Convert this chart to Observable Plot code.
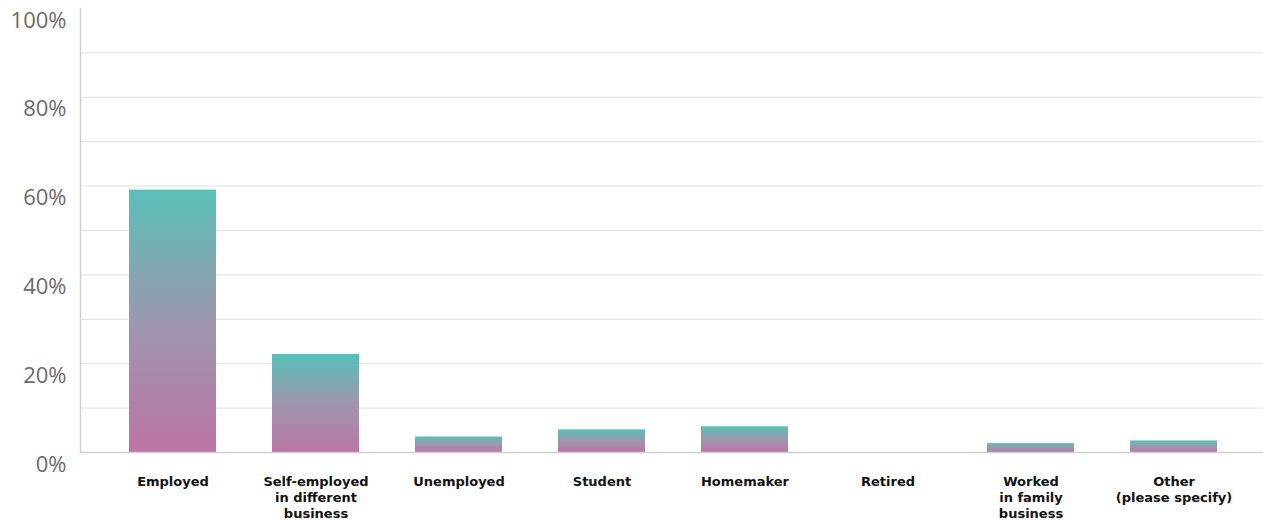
<!DOCTYPE html>
<html>
<head>
<meta charset="utf-8">
<script src="https://cdn.jsdelivr.net/npm/d3@7"></script>
<script src="https://cdn.jsdelivr.net/npm/@observablehq/plot@0.6"></script>
<style>
  html, body { margin: 0; padding: 0; background: #fff; }
  #chart svg { display: block; }
</style>
</head>
<body>
<div id="chart"></div>
<script>
const categories = [
  "Employed",
  "Self-employed\nin different\nbusiness",
  "Unemployed",
  "Student",
  "Homemaker",
  "Retired",
  "Worked\nin family\nbusiness",
  "Other\n(please specify)"
];
const values = [59.1, 22.1, 3.5, 5.1, 5.8, 0, 2.0, 2.6];
const yTicks = [0, 20, 40, 60, 80, 100];
const gridTicks = [10, 20, 30, 40, 50, 60, 70, 80, 90];

const data = categories.map((c, i) => ({category: c, value: values[i]}));

const defs = () => {
  const d = d3.create("svg:defs");
  const g = d.append("linearGradient").attr("id", "barGrad")
    .attr("x1", 0).attr("y1", 0).attr("x2", 0).attr("y2", 1);
  g.append("stop").attr("offset", "0%").attr("stop-color", "#58c0b8");
  g.append("stop").attr("offset", "50%").attr("stop-color", "#9c97ae");
  g.append("stop").attr("offset", "100%").attr("stop-color", "#bc75a6");
  return d.node();
};

const chart = Plot.plot({
  width: 1263,
  height: 520,
  marginLeft: 80,
  marginRight: 0,
  marginTop: 8,
  marginBottom: 68,
  style: {fontFamily: "'DejaVu Sans', sans-serif", background: "#fff"},
  x: {domain: categories, range: [82, 1265], paddingInner: 0.39, paddingOuter: 0.33, label: null},
  y: {domain: [0, 100], label: null},
  marks: [
    defs,
    Plot.ruleY(gridTicks, {stroke: "#e2e2e2", strokeWidth: 1}),
    Plot.barY(data, {x: "category", y: "value", fill: "url(#barGrad)"}),
    Plot.ruleY([0], {stroke: "#cfcfcf", strokeWidth: 1.5}),
    Plot.frame({anchor: "left", stroke: "#cfcfcf", strokeWidth: 1.5}),
    Plot.axisY({
      ticks: yTicks,
      tickSize: 0,
      tickPadding: 14,
      dy: 12,
      tickFormat: d => d + "%",
      fontSize: 22,
      fontFamily: "'Open Sans', sans-serif",
      fill: "#6b6b6b",
      label: null
    }),
    Plot.axisX({
      tickSize: 0,
      tickPadding: 22,
      fontSize: 13,
      fontWeight: "bold",
      lineHeight: 1.23,
      fill: "#111",
      label: null
    })
  ]
});
document.getElementById("chart").appendChild(chart);
</script>
</body>
</html>
